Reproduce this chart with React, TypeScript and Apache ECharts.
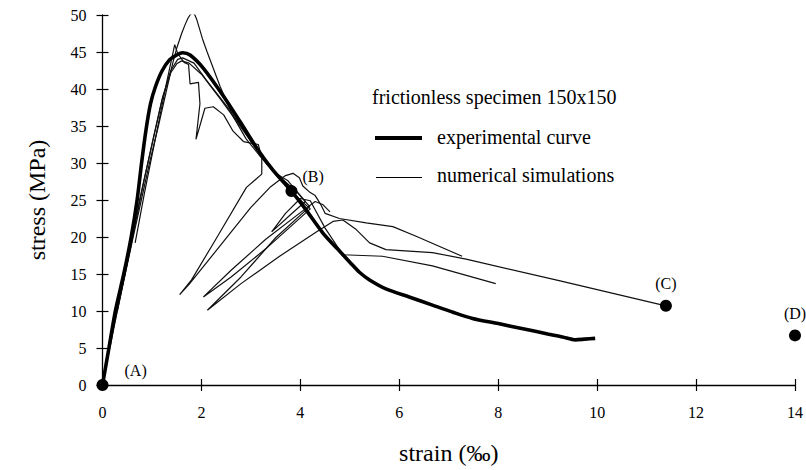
import React, { useEffect, useRef } from "react";
import * as echarts from "echarts";

// strain (‰), stress (MPa)
const experimentalCurve: [number, number][] = [
  [0, 0], [0.13, 5], [0.26, 10], [0.43, 15], [0.58, 20], [0.7, 25], [0.79, 30],
  [0.88, 34.5], [0.97, 38], [1.07, 40.3], [1.2, 42.4], [1.35, 43.9], [1.5, 44.6],
  [1.62, 44.9], [1.77, 44.6], [2.04, 42.8], [2.44, 39.1], [2.78, 35.6], [3.12, 32],
  [3.45, 29], [3.82, 26.2], [4.1, 23.8], [4.46, 20.5], [4.75, 18.4], [5.0, 16.6],
  [5.2, 15.2], [5.4, 14.2], [5.73, 13.0], [6.2, 11.9], [6.67, 10.8], [7.1, 9.8],
  [7.48, 9.0], [8.0, 8.3], [8.5, 7.6], [9.0, 6.9], [9.3, 6.5], [9.56, 6.1],
  [9.75, 6.2], [9.96, 6.3],
];

const simulationA: [number, number][] = [
  [0.3, 10], [0.62, 20], [0.95, 30], [1.13, 35], [1.3, 40], [1.42, 43.5], [1.5, 45.5],
  [1.6, 47.5], [1.67, 48.7], [1.73, 49.6], [1.78, 50.1], [1.82, 50.3], [1.86, 50.1],
  [1.9, 49.5], [1.95, 48.4], [2.02, 46.8], [2.11, 45.1], [2.38, 40.3], [2.64, 36.3],
  [2.9, 33.3], [3.2, 30.8], [3.5, 28.6], [3.75, 27.6], [3.95, 26], [4.1, 24.8],
  [3.8, 23], [3.42, 20.7], [3.7, 23.2], [4.0, 25.2], [4.2, 24.9], [4.5, 21.2],
  [4.86, 17.6], [5.66, 17.4], [6.67, 16.1], [7.95, 13.7],
];

const simulationB: [number, number][] = [
  [0.66, 19.2], [0.85, 26], [1.0, 31], [1.15, 36], [1.3, 41], [1.46, 46], [1.52, 44.8],
  [1.65, 43.6], [1.74, 43.3], [1.77, 40.7], [1.94, 40.9], [1.97, 38], [1.89, 33.2],
  [2.07, 37.4], [2.24, 37.6], [2.45, 36.5], [2.64, 34.3], [2.85, 32.9], [3.15, 32.5],
  [3.22, 30.7], [3.22, 28.5], [2.91, 26.7], [2.3, 19.8], [1.8, 14.2], [1.56, 12.2],
  [1.75, 13.6], [2.4, 19], [3.0, 24], [3.4, 26.8], [3.7, 28.3], [3.85, 28.6],
  [3.98, 28.0], [4.05, 26.9], [4.2, 26.0], [4.3, 25.6], [4.42, 24.3], [4.5, 23.2],
  [4.79, 22.5], [5.33, 21.9], [5.87, 21.4], [6.34, 20.1], [7.27, 17.4],
];

const simulationC: [number, number][] = [
  [0.2, 7], [0.55, 18], [0.85, 28], [1.05, 34], [1.22, 39], [1.38, 42.5], [1.52, 44],
  [1.62, 44.2], [1.85, 43.5], [2.1, 41.2], [2.5, 37.8], [2.9, 34], [3.3, 30], [3.7, 27],
  [4.0, 25], [4.2, 23.8], [3.3, 18.4], [2.6, 14.6], [2.04, 11.9], [2.6, 15.5],
  [3.3, 19.7], [4.06, 23.6], [4.3, 24.8], [4.45, 24.4], [4.6, 23.4],
];

const simulationD: [number, number][] = [
  [0.15, 5], [0.45, 15], [0.75, 25], [1.0, 32.5], [1.2, 38.5], [1.38, 42.2], [1.5, 43.4],
  [1.6, 43.8], [1.75, 43.5], [2.0, 42], [2.4, 38.5], [2.8, 34.8], [3.2, 31], [3.6, 28],
  [3.9, 26.3], [4.19, 24.1], [3.5, 19.9], [2.8, 14.6], [2.12, 10.1], [2.8, 13.7],
  [3.58, 17.4], [4.33, 20.7], [4.66, 22.1], [4.86, 22.3], [5.13, 21], [5.4, 19.2],
  [5.73, 18.3], [6.67, 17.9], [7.35, 17.0], [9.23, 14.1], [11.39, 10.7],
];

const simulations = [simulationA, simulationB, simulationC, simulationD];

// labelled states along the response
const stateNames = ["(A)", "(B)", "(C)", "(D)"];
const stateStrain = [0, 3.82, 11.39, 14];
const stateStress = [0, 26.2, 10.7, 6.7];

const strainTicks = { min: 0, max: 14, interval: 2 };
const stressTicks = { min: 0, max: 50, interval: 5 };

const titleText = "frictionless specimen 150x150";
const legendNames = ["experimental curve", "numerical simulations"];

const SERIF = "Liberation Serif";
const INK = "#000000";

export default function App() {
  const ref = useRef<HTMLDivElement>(null);

  useEffect(() => {
    if (!ref.current) return;
    const chart = echarts.init(ref.current, undefined, { renderer: "svg" });

    const labelPlacement: Record<string, any> = {
      "(A)": { position: "right", offset: [11, -15] },
      "(B)": { position: "right", offset: [0, -15] },
      "(C)": { position: "top", distance: 8 },
      "(D)": { position: "top", distance: 8 },
    };

    const tickStyle = { color: INK, width: 1.2 };
    const labelFont = { fontFamily: SERIF, fontSize: 16, color: INK };
    const nameFont = { fontFamily: SERIF, fontSize: 24, color: INK };
    const legendFont = { fontFamily: SERIF, fontSize: 20, fill: INK };

    chart.setOption({
      animation: false,
      backgroundColor: "#ffffff",
      grid: { left: 102.5, right: 8.5, top: 15, bottom: 80, containLabel: false },
      xAxis: [
        {
          type: "value",
          ...strainTicks,
          position: "bottom",
          name: "strain (‰)",
          nameLocation: "middle",
          nameGap: 56,
          nameTextStyle: nameFont,
          axisLine: { show: true, lineStyle: { color: INK, width: 1.3 } },
          splitLine: { show: false },
          axisTick: { show: true, length: 6, lineStyle: tickStyle },
          axisLabel: { margin: 19, ...labelFont },
        },
        {
          type: "value",
          ...strainTicks,
          position: "bottom",
          axisLine: { show: false },
          splitLine: { show: false },
          axisTick: { show: true, inside: true, length: 6, lineStyle: tickStyle },
          axisLabel: { show: false },
        },
      ],
      yAxis: [
        {
          type: "value",
          ...stressTicks,
          position: "left",
          name: "stress (MPa)",
          nameLocation: "middle",
          nameGap: 54,
          nameRotate: 90,
          nameTextStyle: nameFont,
          axisLine: { show: true, lineStyle: { color: INK, width: 1.3 } },
          splitLine: { show: false },
          axisTick: { show: true, length: 6, lineStyle: tickStyle },
          axisLabel: { margin: 16, ...labelFont },
        },
        {
          type: "value",
          ...stressTicks,
          position: "left",
          axisLine: { show: false },
          splitLine: { show: false },
          axisTick: { show: true, inside: true, length: 6, lineStyle: tickStyle },
          axisLabel: { show: false },
        },
      ],
      series: [
        ...simulations.map((data) => ({
          type: "line",
          name: legendNames[1],
          data,
          symbol: "none",
          smooth: false,
          lineStyle: { color: "#111111", width: 1.2 },
          z: 2,
        })),
        {
          type: "line",
          name: legendNames[0],
          data: experimentalCurve,
          symbol: "none",
          smooth: 0.25,
          lineStyle: { color: INK, width: 3.6 },
          z: 3,
        },
        {
          type: "scatter",
          data: stateNames.map((n, i) => ({
            name: n,
            value: [stateStrain[i], stateStress[i]],
            label: { show: true, formatter: n, ...labelFont, ...labelPlacement[n] },
          })),
          symbolSize: 12,
          clip: false,
          itemStyle: { color: INK, opacity: 1 },
          label: { ...labelFont },
          z: 4,
        },
      ],
      graphic: [
        {
          type: "text",
          left: 372,
          top: 87,
          style: { text: titleText, ...legendFont },
        },
        {
          type: "line",
          shape: { x1: 375, y1: 138, x2: 422, y2: 138 },
          style: { stroke: INK, lineWidth: 4 },
        },
        {
          type: "text",
          left: 437,
          top: 127,
          style: { text: legendNames[0], ...legendFont },
        },
        {
          type: "line",
          shape: { x1: 376, y1: 177.5, x2: 422, y2: 177.5 },
          style: { stroke: INK, lineWidth: 1.2 },
        },
        {
          type: "text",
          left: 437,
          top: 165,
          style: { text: legendNames[1], ...legendFont },
        },
      ],
    });

    return () => chart.dispose();
  }, []);

  return (
    <div
      ref={ref}
      style={{ position: "fixed", left: 0, top: 0, width: 806, height: 470, background: "#fff" }}
    />
  );
}
